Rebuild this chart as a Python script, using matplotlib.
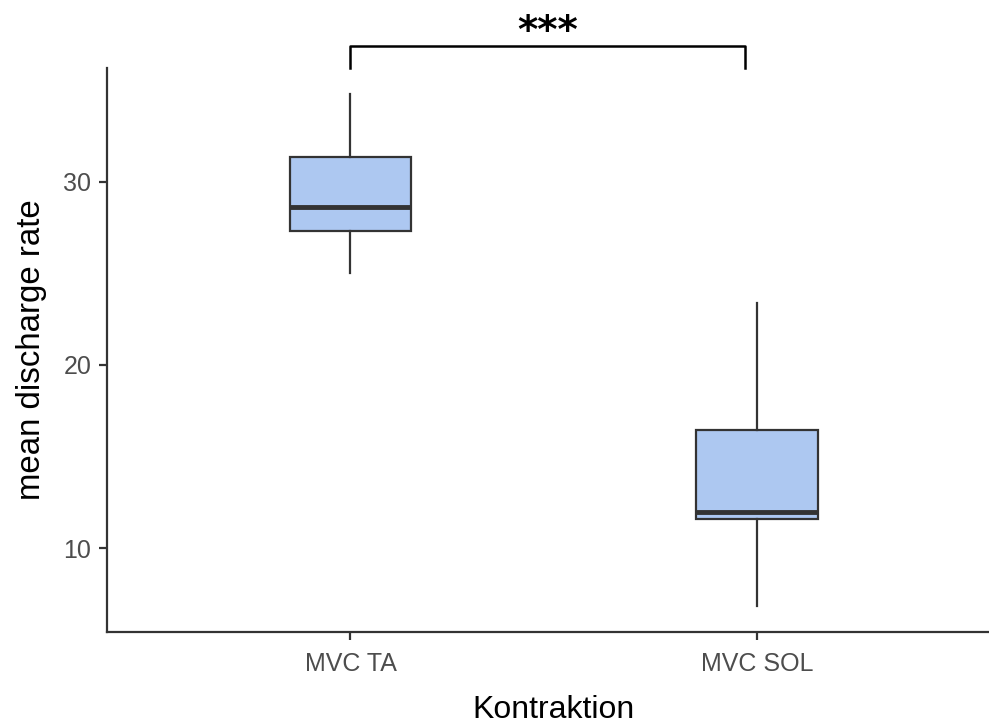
import matplotlib
matplotlib.use("Agg")
import matplotlib.pyplot as plt

groups = ["MVC TA", "MVC SOL"]
whislo = [25.04, 6.85]
q1 = [27.31, 11.61]
med = [28.60, 12.00]
q3 = [31.33, 16.45]
whishi = [34.78, 23.40]
yticks = [10, 20, 30]
signif = "***"

plt.rcParams["font.family"] = ["Liberation Sans", "DejaVu Sans"]

fig = plt.figure(figsize=(9.89, 7.26), dpi=100)
ax = fig.add_axes([106.7 / 989, 94.3 / 726, (1000.6 - 106.7) / 989, 0.7759])

stats = []
for i, g in enumerate(groups):
    stats.append({"label": g, "whislo": whislo[i], "q1": q1[i], "med": med[i],
                  "q3": q3[i], "whishi": whishi[i], "fliers": []})

edge = "#333333"
ax.bxp(stats, positions=[1, 2], widths=0.3, patch_artist=True, showcaps=False,
       boxprops=dict(facecolor="#adc8f1", edgecolor=edge, linewidth=1.6),
       medianprops=dict(color=edge, linewidth=3.5),
       whiskerprops=dict(color=edge, linewidth=1.6))

ax.set_xlim(0.4, 2.6)
ax.set_ylim(5.45, 36.18)
ax.set_yticks(yticks)
ax.set_xticks([1, 2])
ax.set_xticklabels(groups)

for s in ["top", "right"]:
    ax.spines[s].set_visible(False)
for s in ["left", "bottom"]:
    ax.spines[s].set_color(edge)
    ax.spines[s].set_linewidth(1.6)
ax.tick_params(colors=edge, width=1.6, length=6, labelsize=18, labelcolor="#4d4d4d")
ax.tick_params(axis="x", pad=8.5)
ax.tick_params(axis="y", pad=5)

ax.set_xlabel("Kontraktion", fontsize=23, labelpad=14)
ax.set_ylabel("mean discharge rate", fontsize=23.8, labelpad=12)

# significance bracket
bx = [1, 1, 1.97, 1.97]
by = [36.2, 37.42, 37.42, 36.2]
ax.plot(bx, by, color="black", linewidth=1.8, clip_on=False)
ax.text(1.485, 37.14, signif, ha="center", va="bottom", fontsize=28,
        fontweight="bold", family="DejaVu Sans")

fig.savefig("out.png", dpi=100)
